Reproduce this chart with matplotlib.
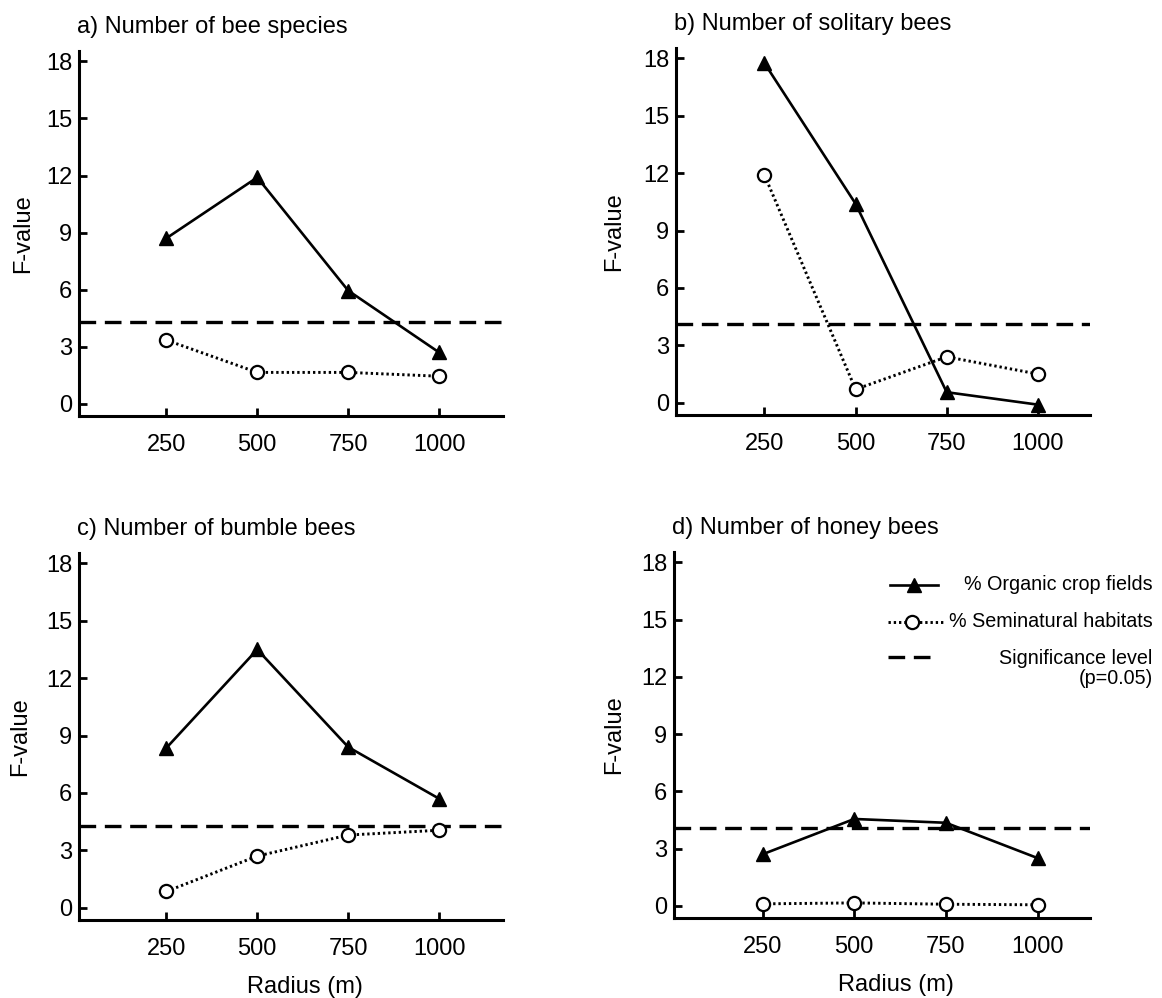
import numpy as np
import matplotlib
matplotlib.use("Agg")
import matplotlib.pyplot as plt

plt.rcParams['font.family'] = ['Liberation Sans', 'DejaVu Sans']

# Data
radius = [250, 500, 750, 1000]
yticks = [0, 3, 6, 9, 12, 15, 18]

titles = ["a) Number of bee species", "b) Number of solitary bees",
          "c) Number of bumble bees", "d) Number of honey bees"]
organic_a = [8.7, 11.9, 5.95, 2.7]
semi_a = [3.35, 1.65, 1.65, 1.45]
organic_b = [17.75, 10.4, 0.55, -0.1]
semi_b = [11.9, 0.7, 2.4, 1.5]
organic_c = [8.35, 13.5, 8.4, 5.7]
semi_c = [0.85, 2.7, 3.8, 4.05]
organic_d = [2.7, 4.55, 4.35, 2.5]
semi_d = [0.1, 0.15, 0.08, 0.05]
signif = [4.3, 4.1, 4.25, 4.1]

legend_labels = ["% Organic crop fields", "% Seminatural habitats",
                 "Significance level\n(p=0.05)"]

organic = [organic_a, organic_b, organic_c, organic_d]
semi = [semi_a, semi_b, semi_c, semi_d]

fig = plt.figure(figsize=(11.62, 9.98), dpi=100)

# axes rectangles [left, bottom, width, height] in figure fractions
rects = [
    [0.068, 0.583, 0.365, 0.366],
    [0.582, 0.584, 0.356, 0.368],
    [0.068, 0.078, 0.365, 0.368],
    [0.580, 0.080, 0.358, 0.367],
]
xlims = [(10, 1176), (8, 1143), (10, 1176), (8, 1143)]
ylab_x = [-0.105, -0.124, -0.114, -0.117]

dot = (0.8, 1.0)
dash = (5, 2.6)

axes = []
for i in range(4):
    ax = fig.add_axes(rects[i])
    axes.append(ax)

    ax.axhline(signif[i], color='black', lw=2.4, dashes=dash, zorder=1)
    ax.plot(radius, semi[i], color='black', lw=2.1, dashes=dot,
            marker='o', ms=9.5, mfc='white', mec='black', mew=1.6, zorder=2)
    ax.plot(radius, organic[i], color='black', lw=1.9, marker='^', ms=9.5,
            mfc='black', mec='black', zorder=3)

    ax.set_xlim(*xlims[i])
    ax.set_ylim(-0.65, 18.55)
    ax.set_xticks(radius)
    ax.set_yticks(yticks)
    ax.tick_params(direction='in', length=6, width=2, labelsize=17, color='black')
    ax.tick_params(axis='x', pad=13)
    ax.tick_params(axis='y', pad=5)

    for s in ['top', 'right']:
        ax.spines[s].set_visible(False)
    for s in ['left', 'bottom']:
        ax.spines[s].set_linewidth(2.2)

    ax.set_ylabel("F-value", fontsize=17)
    ax.yaxis.set_label_coords(ylab_x[i], 0.5)
    ax.set_title(titles[i], loc='left', fontsize=17, pad=13, x=-0.005)

    if i >= 2:
        ax.set_xlabel("Radius (m)", fontsize=17)
        ax.xaxis.set_label_coords(0.533, -0.152)

# legend drawn by hand in panel d, texts right aligned
ax = axes[3]
tr = ax.transAxes
ax.plot([0.519, 0.635], [0.910, 0.910], transform=tr, color='black', lw=1.9,
        clip_on=False)
ax.plot([0.577], [0.910], transform=tr, marker='^', ms=9.5, color='black',
        clip_on=False)
ax.plot([0.514, 0.648], [0.809, 0.809], transform=tr, color='black', lw=2.1,
        dashes=dot, clip_on=False)
ax.plot([0.572], [0.809], transform=tr, marker='o', ms=9.5, mfc='white',
        mec='black', mew=1.6, clip_on=False)
ax.plot([0.514, 0.635], [0.713, 0.713], transform=tr, color='black', lw=2.4,
        dashes=dash, clip_on=False)

ax.text(1.151, 0.910, legend_labels[0], transform=tr, ha='right', va='center',
        fontsize=14.2)
ax.text(1.151, 0.809, legend_labels[1], transform=tr, ha='right', va='center',
        fontsize=14.2)
ax.text(1.151, 0.682, legend_labels[2], transform=tr, ha='right', va='center',
        multialignment='right', fontsize=14.2, linespacing=1.1)

fig.savefig("out.png", dpi=100)
